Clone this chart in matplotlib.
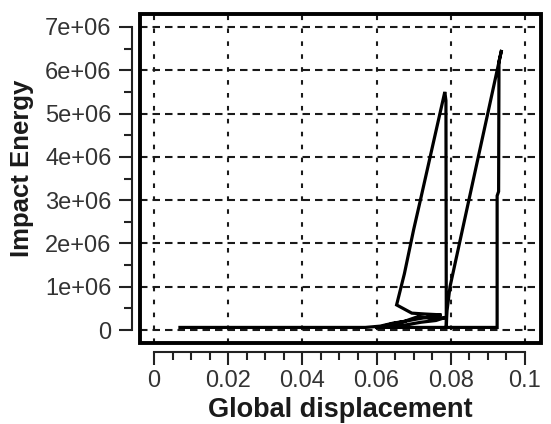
import numpy as np
import matplotlib
matplotlib.use('Agg')
import matplotlib.pyplot as plt
from matplotlib.patches import Rectangle
from matplotlib.ticker import MultipleLocator, FixedLocator

# impact energy history vs. global displacement (two load/unload cycles)
disp = [0.007, 0.057, 0.061, 0.0645, 0.0675, 0.0712, 0.0745, 0.0775, 0.0789,
        0.0760, 0.0720, 0.0680, 0.0640, 0.0610, 0.0640, 0.0670, 0.0700, 0.0740,
        0.0775, 0.0730, 0.0695, 0.0654,
        0.0675, 0.0700, 0.0720, 0.0745, 0.0765, 0.0784, 0.0787, 0.0788,
        0.0789, 0.0790, 0.0798, 0.0860, 0.0901, 0.0937,
        0.0930, 0.0929, 0.0925, 0.0925, 0.060]
energy = [0.06e6, 0.06e6, 0.09e6, 0.16e6, 0.20e6, 0.31e6, 0.27e6, 0.27e6, 0.30e6,
          0.22e6, 0.18e6, 0.12e6, 0.09e6, 0.07e6, 0.14e6, 0.19e6, 0.24e6, 0.30e6,
          0.35e6, 0.37e6, 0.39e6, 0.58e6,
          1.30e6, 2.32e6, 3.07e6, 4.02e6, 4.78e6, 5.50e6, 5.30e6, 0.06e6,
          0.30e6, 0.45e6, 1.00e6, 3.44e6, 5.05e6, 6.47e6,
          6.20e6, 3.20e6, 3.10e6, 0.06e6, 0.06e6]

x_ticks = [0, 0.02, 0.04, 0.06, 0.08, 0.1]
x_labels = ['0', '0.02', '0.04', '0.06', '0.08', '0.1']
y_ticks = [0, 1e6, 2e6, 3e6, 4e6, 5e6, 6e6, 7e6]
y_labels = ['0', '1e+06', '2e+06', '3e+06', '4e+06', '5e+06', '6e+06', '7e+06']

plt.rcParams.update({
    'font.family': ['Liberation Sans', 'DejaVu Sans'],
    'font.size': 17,
})

fig = plt.figure(figsize=(5.51, 4.24), dpi=100)
ax = fig.add_axes([0.2532, 0.1903, 0.7278, 0.7778])

ax.plot(disp, energy, color='black', lw=2.3, solid_joinstyle='miter', zorder=3)

# dashed grid at the major ticks
for yv in y_ticks:
    ax.axhline(yv, color='#1a1a1a', lw=1.5, ls=(0, (3.6, 2.4)), zorder=1)
for xv in x_ticks:
    ax.axvline(xv, color='#1a1a1a', lw=1.5, ls=(0, (2.2, 4.0)), zorder=1)

ax.set_xlim(-0.0039, 0.1042)
ax.set_ylim(-0.307e6, 7.311e6)

# detached axis lines, box drawn separately
for s in ('top', 'right'):
    ax.spines[s].set_visible(False)
ax.spines['left'].set_position(('outward', 5.6))
ax.spines['bottom'].set_position(('outward', 6.0))
ax.spines['left'].set_bounds(0, 7e6)
ax.spines['bottom'].set_bounds(0, 0.1)
for s in ('left', 'bottom'):
    ax.spines[s].set_linewidth(1.5)
    ax.spines[s].set_color('#222222')

ax.add_patch(Rectangle((0, 0), 1, 1, transform=ax.transAxes, fill=False,
                       lw=2.8, edgecolor='black', clip_on=False, zorder=4))

ax.xaxis.set_major_locator(FixedLocator(x_ticks))
ax.xaxis.set_minor_locator(MultipleLocator(0.005))
ax.yaxis.set_major_locator(FixedLocator(y_ticks))
ax.yaxis.set_minor_locator(MultipleLocator(0.5e6))
ax.set_xticklabels(x_labels)
ax.set_yticklabels(y_labels)

ax.tick_params(which='major', length=9.5, width=1.5, color='#222222',
               labelsize=17, labelcolor='#333333')
ax.tick_params(which='minor', length=5.5, width=1.5, color='#222222')
ax.tick_params(axis='y', which='major', pad=5)
ax.tick_params(axis='x', which='major', pad=4)

ax.set_xlabel('Global displacement', fontsize=19.5, fontweight='bold',
              color='#1a1a1a', labelpad=3)
ax.set_ylabel('Impact Energy', fontsize=18.5, fontweight='bold',
              color='#1a1a1a')
ax.yaxis.set_label_coords(-0.262, 0.53)

fig.savefig('out.png', dpi=100)
plt.close(fig)
